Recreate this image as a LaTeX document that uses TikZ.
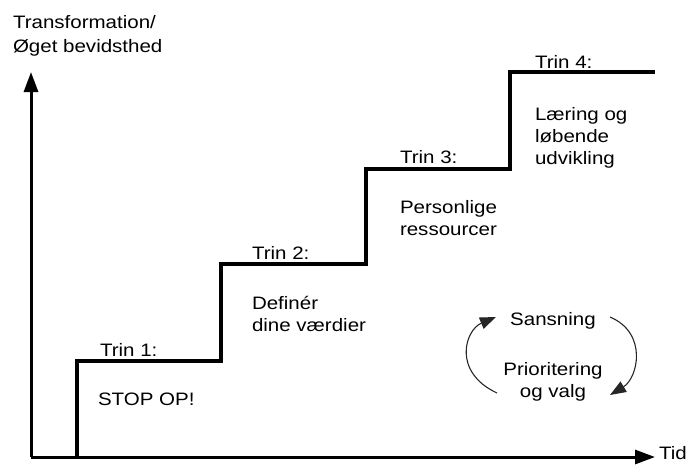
\documentclass[tikz,border=0pt]{standalone}
\usepackage{fontspec}
\setmainfont[FakeStretch=1.14]{Liberation Sans}
\usetikzlibrary{arrows.meta}
\tikzset{
  lbl/.style={inner sep=0pt, outer sep=0pt, anchor=base west, font=\fontsize{18}{22}\selectfont},
  clbl/.style={lbl, anchor=base},
  axis/.style={line width=3pt, -{Triangle[length=20pt,width=14pt]}},
  stair/.style={line width=3.3pt, line join=miter},
  cyc/.style={line width=1.1pt, draw=black!85, -{Triangle[length=16pt,width=12pt]}},
}
\begin{document}
\begin{tikzpicture}[x=1pt,y=-1pt]
\useasboundingbox (0,0) rectangle (690,464);
% axes
\coordinate (O) at (31,457);
\coordinate (ytop) at (31,72);
\coordinate (xend) at (655,457);
\draw[axis] (O) -- (ytop);
\draw[axis] (O) -- (xend);
% staircase
\coordinate (s0) at (77,457);
\coordinate (s1) at (77,361);
\coordinate (s2) at (221,361);
\coordinate (s3) at (221,264);
\coordinate (s4) at (366,264);
\coordinate (s5) at (366,169);
\coordinate (s6) at (510,169);
\coordinate (s7) at (510,72);
\coordinate (s8) at (655,72);
\draw[stair] (s0) -- (s1) -- (s2) -- (s3) -- (s4) -- (s5) -- (s6) -- (s7) -- (s8);
% axis labels
\node[lbl] (ylab) at (13,28.3) {\vtop{\baselineskip=24.4pt\hbox{Transformation/}\hbox{Øget bevidsthed}}};
\node[lbl] (xlab) at (659,459.5) {Tid};
% step labels
\node[lbl] (t1) at (100,356) {Trin 1:};
\node[lbl] (d1) at (98,405) {STOP OP!};
\node[lbl] (t2) at (252,259) {Trin 2:};
\node[lbl] (d2) at (252,309) {\vtop{\hbox{Definér}\hbox{dine værdier}}};
\node[lbl] (t3) at (400,163) {Trin 3:};
\node[lbl] (d3) at (400,213) {\vtop{\hbox{Personlige}\hbox{ressourcer}}};
\node[lbl] (t4) at (535,68) {Trin 4:};
\node[lbl] (d4) at (535,120) {\vtop{\hbox{Læring og}\hbox{løbende}\hbox{udvikling}}};
% cycle
\node[clbl] (sans) at (553,325) {Sansning};
\node[clbl] (prio) at (553,375) {\vtop{\halign{\hfil#\hfil\cr Prioritering\cr og valg\cr}}};
\coordinate (la) at (497,393);
\coordinate (lb) at (496,317);
\coordinate (ra) at (610,317);
\coordinate (rb) at (610,395);
\draw[cyc] (la) .. controls (452,372) and (465,330) .. (lb);
\draw[cyc] (ra) .. controls (648,333) and (638,378) .. (rb);
\end{tikzpicture}
\end{document}
